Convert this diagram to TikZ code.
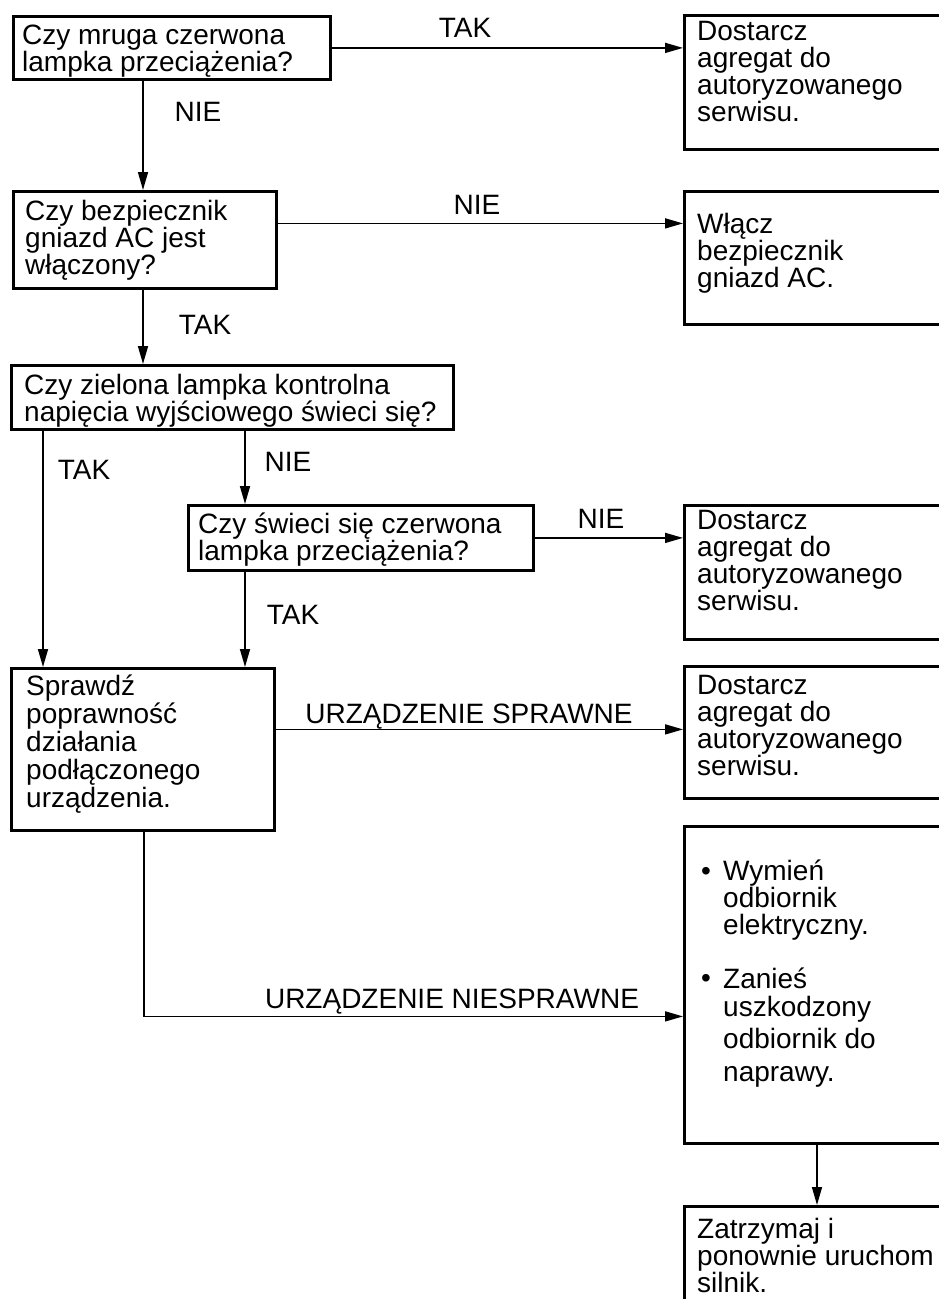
\documentclass[tikz,border=0pt]{standalone}
\usepackage{fontspec}
\setmainfont{Liberation Sans}
\usetikzlibrary{arrows.meta}
\begin{document}
\begin{tikzpicture}[x=1pt,y=-1pt,
  box/.style={draw, line width=2.8pt, rectangle, inner sep=0pt, anchor=north west},
  txt/.style={anchor=north west, inner sep=0pt, align=left, font=\fontsize{28}{27}\selectfont},
  lbl/.style={anchor=base, inner sep=0pt, font=\fontsize{28}{27}\selectfont},
  arr/.style={line width=1.6pt, -{Triangle[length=18pt,width=10pt]}},
]
\useasboundingbox (0,0) rectangle (939,1299);
\clip (0,0) rectangle (939,1299);
\fill[white] (0,0) rectangle (939,1299);

% boxes
\node[box, minimum width=317pt, minimum height=63pt] (b1) at (12,15) {};
\node[box, minimum width=263pt, minimum height=97pt] (b2) at (12,190) {};
\node[box, minimum width=442pt, minimum height=64pt] (b3) at (10,364) {};
\node[box, minimum width=345pt, minimum height=65pt] (b4) at (187,504) {};
\node[box, minimum width=263pt, minimum height=162pt] (b5) at (10,667) {};
\node[box, minimum width=300pt, minimum height=134pt] (r1) at (683,14) {};
\node[box, minimum width=300pt, minimum height=133pt] (r2) at (683,190) {};
\node[box, minimum width=300pt, minimum height=134pt] (r3) at (683,504) {};
\node[box, minimum width=300pt, minimum height=132pt] (r4) at (683,665) {};
\node[box, minimum width=300pt, minimum height=317pt] (r5) at (683,825) {};
\node[box, minimum width=300pt, minimum height=150pt] (r6) at (683,1205) {};

% texts
\node[txt] (b1t) at (22,25) {Czy mruga czerwona\\lampka przeciążenia?};
\node[txt] (b2t) at (25,200) {Czy bezpiecznik\\gniazd AC jest\\włączony?};
\node[txt] (b3t) at (24,374) {Czy zielona lampka kontrolna\\napięcia wyjściowego świeci się?};
\node[txt] (b4t) at (198,513) {Czy świeci się czerwona\\lampka przeciążenia?};
\node[txt] (b5t) at (26,675) {Sprawdź\\[1pt]poprawność\\[1pt]działania\\[1pt]podłączonego\\[1pt]urządzenia.};
\node[txt] (r1t) at (697,21) {Dostarcz\\agregat do\\autoryzowanego\\serwisu.};
\node[txt] (r2t) at (697,213) {Włącz\\bezpiecznik\\gniazd AC.};
\node[txt] (r3t) at (697,510) {Dostarcz\\agregat do\\autoryzowanego\\serwisu.};
\node[txt] (r4t) at (697,675) {Dostarcz\\agregat do\\autoryzowanego\\serwisu.};
\node[txt] (r5t) at (723,860) {Wymień\\odbiornik\\elektryczny.\\[27pt]Zanieś\\[1pt]uszkodzony\\[5pt]odbiornik do\\[6pt]naprawy.};
\node[lbl] (bul1) at (706,880) {•};
\node[lbl] (bul2) at (706,987) {•};
\node[txt] (r6t) at (697,1218) {Zatrzymaj i\\ponownie uruchom\\silnik.};

% labels
\node[lbl] (l1) at (465,37) {TAK};
\node[lbl] (l2) at (198,121) {NIE};
\node[lbl] (l3) at (477,214) {NIE};
\node[lbl] (l4) at (205,334) {TAK};
\node[lbl] (l5) at (84,479) {TAK};
\node[lbl] (l6) at (288,471) {NIE};
\node[lbl] (l7) at (601,528) {NIE};
\node[lbl] (l8) at (293,624) {TAK};
\node[lbl] (l9) at (469,723) {URZĄDZENIE SPRAWNE};
\node[lbl] (l10) at (452,1008) {URZĄDZENIE NIESPRAWNE};

% connectors
\draw[arr] (b1.east) -- (b1.east -| r1.west);
\draw[arr] ([xshift=131pt]b1.south west) coordinate (c1) -- (c1 |- b2.north);
\draw[arr] ([yshift=16.5pt]b2.east) coordinate (c2) -- (c2 -| r2.west);
\draw[arr] ([xshift=131pt]b2.south west) coordinate (c3) -- (c3 |- b3.north);
\draw[arr] ([xshift=33pt]b3.south west) coordinate (c4) -- (c4 |- b5.north);
\draw[arr] ([xshift=235pt]b3.south west) coordinate (c5) -- (c5 |- b4.north);
\draw[arr] (b4.east) -- (b4.east -| r3.west);
\draw[arr] ([xshift=58pt]b4.south west) coordinate (c6) -- (c6 |- b5.north);
\draw[arr] ([yshift=20pt]b5.east) coordinate (c7) -- (c7 -| r4.west);
\draw[arr] ([xshift=134pt]b5.south west) |- ([yshift=-31.5pt]r5.west);
\draw[arr] ([xshift=134pt]r5.south west) coordinate (c8) -- (c8 |- r6.north);
\end{tikzpicture}
\end{document}
